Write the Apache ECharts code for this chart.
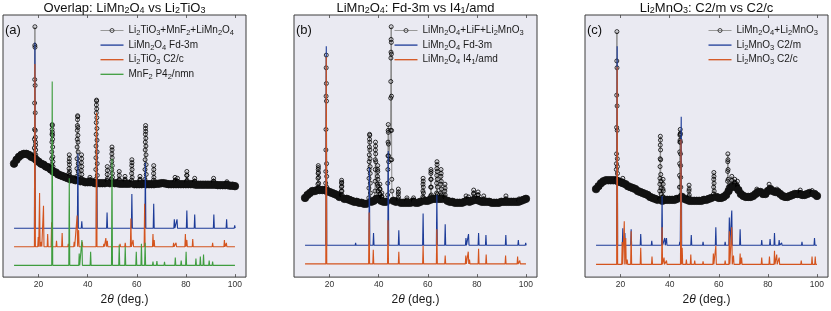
<!DOCTYPE html>
<html><head><meta charset="utf-8">
<script src="https://cdn.jsdelivr.net/npm/echarts@6/dist/echarts.min.js"></script>
<style>html,body{margin:0;padding:0;background:#fff}#c{width:831px;height:311px}</style>
</head><body><div id="c"></div>
<script>
// ---------------- DATA (intensity in arbitrary units, 2θ in degrees) ----------------
const bgStart = 10; // measured background sampled every 1° from 10° to 100°
const tickVals = [20, 40, 60, 80, 100];

// Panel (a) measured pattern
const expBaseA = [116,120,123,125,126,126,125,123,122,120,
  118,116,115,113,112,110,108,107,105,104,
  103,102,101,100,100,99,99,98,98,97,
  97,97,97,96,96,96,96,96,96,96,
  95.5,96,96,95.5,95.5,95.5,95.5,95.5,95,95,
  95,95,95,95.5,95,95,95,95,95.5,95.5,
  96,96,95.5,95,95,95,95,95,95,95,
  95,95,95,95,94.5,94.5,94.5,94.5,94.5,94.5,
  94.5,94.5,94.5,94,94,94,94,94,93.5,93.5,93];
const expPeaksA = [
  [18.5,[126,132,141,151,178,202,237,256,235,196,168,150,143,138,135,130,125]],
  [25.55,[115,121,128,138,146,151,156,155,148,145,141,133,123,118,113]],
  [32.5,[106,111,118,125,121,115,108,104]],
  [35.9,[103,111,121,133,141,150,155,161,165,164,153,145,138,128,116,108,102]],
  [37.5,[101,109,117,125,121,113,105]],
  [40.9,[100,102,99]],
  [43.6,[100,110,122,134,146,158,168,176,181,180,172,163,152,140,128,116,104]],
  [48.0,[99,105,113,109,101]],
  [49.9,[100,110,118,126,133,130,122,114,106,102]],
  [52.85,[100,108,104,99]],
  [55.2,[99,103,100]],
  [58.0,[99,106,114,120,117,110,102]],
  [61.3,[99,103,100]],
  [63.6,[100,110,120,130,138,146,152,155,149,142,134,125,115,105]],
  [66.9,[99,106,114,110,102]],
  [75.6,[98,102,99]],
  [76.6,[98,101,98]],
  [80.4,[98,104,108,104,99]],
  [83.6,[98,101,98]],
  [91.3,[98,101,98]],
  [96.7,[96,97.5,96]]
];
// Panel (a) reference patterns: offset and [2θ, peak top]
const refA1Base = 50;
const refA1Peaks = [[18.5,240],[30.4,52],[36.0,126],[37.6,57],[43.7,145],[47.9,66],[58.0,85],[63.5,117],[66.9,75],[75.3,59],[76.4,59],[80.4,68],[83.6,64],[91.4,64],[96.6,59],[99.9,53]];
const refA2Base = 31;
const refA2Peaks = [[18.5,218],[19.85,41],[20.4,86],[21.1,36],[22.0,73],[23.7,44],[25.3,56],[27.3,37],[29.6,45],[32.1,34],[34.5,36],[35.7,63],[36.3,48],[37.8,36],[40.2,33],[41.6,33],[43.6,168],[45.4,33],[46.6,34],[47.4,40],[48.0,37],[51.1,33],[53.2,34],[55.3,35],[57.6,60],[58.5,38],[63.2,75],[66.6,44],[67.1,38],[75.0,35],[76.0,35],[79.8,44],[80.4,38],[82.8,39],[90.9,35],[95.7,38],[96.5,35]];
const refA3Base = 12;
const refA3Peaks = [[25.55,200],[32.5,101],[36.55,24],[37.65,38],[41.2,26],[49.9,121],[52.85,33],[55.3,31],[59.8,26],[61.9,34],[63.4,35],[66.6,16],[68.2,16.5],[71.3,15.7],[75.7,20],[78.1,17],[80.1,26],[84.1,19],[85.9,21],[87.2,23],[89.5,17],[90.9,16],[94.4,14],[96.0,14]];

// Panel (b) measured pattern
const expBaseB = [81,84,86,88,88,89,89,89,89,88,
  87,86,85,84,82,81,80,80,79,78,
  77,77,76,76,75,75,76,77,78,80,
  80,78,77,77,78,79,78,77,76,76,
  76,76,76,76,77,76,76,77,78,78,
  78,79,80,80,80,80,80,79,78,77,
  77,76,76,76,76,77,78,77,78,79,
  79,78,77,77,77,77,76,76,76,76,
  77,77,77,77,77,77,77,77,78,79,80];
const expPeaksB = [
  [15.4,[90,95,101,106,110,114,112,107,102,96,92]],
  [18.65,[96,108,130,151,185,214,227,198,180,116,103,92]],
  [24.9,[84,88,92,96,99,97,93,88,84]],
  [36.3,[81,91,101,110,118,125,133,141,146,145,138,130,121,113,106,96,86]],
  [38.7,[88,98,110,120,130,138,134,126,118]],
  [39.6,[95,103,110,114,108,100,93,88]],
  [40.5,[85,90,95,90,85]],
  [41.3,[82,86,82]],
  [43.9,[84,96,110,124,138,150,156,148,136,124,118]],
  [45.1,[120,150,183,200,224,230,243,256,240,228,185,150,120,100,88]],
  [48.0,[80,85,90,87,82]],
  [51.5,[78,81,79]],
  [54.2,[78,81,79]],
  [58.1,[82,88,95,101,98,92,86,81]],
  [61.3,[83,92,100,106,110,108,100,92,84]],
  [63.75,[86,96,104,111,118,115,108,100,92,85]],
  [65.4,[86,95,103,110,106,98,90,84]],
  [67.0,[82,88,95,91,84]],
  [75.6,[79,83,80]],
  [76.6,[79,82,79]],
  [78.7,[80,85,89,86,81]],
  [80.5,[80,84,87,84,80]],
  [82.8,[79,83,80]],
  [91.85,[79,83,80]],
  [97.2,[78,80,78]]
];
const refB1Base = 32.5;
const refB1Peaks = [[18.65,236],[30.6,35],[36.2,112],[37.9,45],[43.9,129],[48.2,48],[58.1,65],[63.7,84],[67.1,54],[75.55,40],[76.6,44],[80.7,45],[83.7,43],[91.8,43],[96.9,38],[99.9,35]];
const refB2Base = 13.5;
const refB2Peaks = [[18.65,225],[36.1,66],[37.8,28],[43.8,58],[48.2,26],[58.1,32],[63.7,49],[67.1,22],[75.5,22],[76.5,26],[77.0,18],[80.7,29],[83.8,23],[91.7,22],[96.6,21],[97.5,17]];

// Panel (c) measured pattern
const expBaseC = [90,93,96,98,99,99,99,99,99,98,
  97,96,95,93,92,91,90,88,87,86,
  85,84,82,81,80,79,78,78,79,79,
  79,79,79,80,82,82,80,79,78,78,
  78,78,78,78,79,79,80,81,82,82,
  81,81,82,84,88,92,93,92,89,85,
  83,82,82,82,83,85,87,87,85,85,
  88,90,88,87,87,85,83,82,82,83,
  84,85,85,85,84,84,85,86,86,85,83];
const expPeaksC = [
  [18.5,[100,110,116,126,153,186,221,251,214,175,150,121,113,106,100]],
  [20.9,[97,101,98]],
  [36.2,[80,88,95,101,113,121,135,144,140,130,120,105,98,91,85,80]],
  [37.3,[82,90,100,95,88,82]],
  [44.3,[82,92,104,116,128,138,145,140,146,151,147,138,126,114,102,92,84]],
  [47.9,[82,88,94,90,84]],
  [58.0,[85,92,100,107,103,96,88]],
  [63.7,[88,98,108,118,126,120,110,100,92]],
  [65.3,[95,103,99]],
  [66.5,[96,100,97]],
  [67.6,[94,98,92]],
  [75.5,[87,90,87]],
  [80.5,[90,95,91]],
  [83.7,[88,90,87]],
  [93.2,[86,89,86]],
  [98.0,[86,88.5,86]]
];
const refC1Base = 32.5;
const refC1Peaks = [[18.6,236],[20.9,50],[21.75,45],[24.3,49],[28.2,44],[32.7,37],[36.9,83],[38.0,40],[38.7,40],[44.1,36],[44.7,164],[48.8,43],[53.6,36],[58.8,51],[62.6,36],[64.3,61],[65.3,68],[68.7,49],[77.5,38],[80.9,39],[82.7,45],[84.6,38],[85.6,35],[93.9,36],[99.0,40]];
const refC2Base = 13;
const refC2Peaks = [[18.6,215],[20.65,36],[21.5,57],[22.1,40],[22.7,18],[24.3,47],[28.2,30],[32.8,21],[36.9,51],[37.7,20],[38.7,17],[44.6,141],[45.1,30],[46.8,18],[48.6,23],[50.2,17],[53.6,16],[57.8,24],[58.8,32],[62.6,17],[64.3,47],[65.3,51],[66.0,22],[68.7,24],[69.3,20],[77.5,20],[80.65,21],[82.7,27],[83.6,23],[84.6,20],[93.6,17],[98.0,21],[99.3,21]];

// Labels
const titles = [
  'Overlap: LiMn{s|2}O{s|4} vs Li{s|2}TiO{s|3}',
  'LiMn{s|2}O{s|4}: Fd-3m vs I4{s|1}/amd',
  'Li{s|2}MnO{s|3}: C2/m vs C2/c'
];
const panelTags = ['(a)', '(b)', '(c)'];
const legendLabels = {
  expA: 'Li{s|2}TiO{s|3}+MnF{s|2}+LiMn{s|2}O{s|4}',
  refA1: 'LiMn{s|2}O{s|4} Fd-3m',
  refA2: 'Li{s|2}TiO{s|3} C2/c',
  refA3: 'MnF{s|2} P4{s|2}/nmn',
  expB: 'LiMn{s|2}O{s|4}+LiF+Li{s|2}MnO{s|3}',
  refB1: 'LiMn{s|2}O{s|4} Fd-3m',
  refB2: 'LiMn{s|2}O{s|4} I4{s|1}/amd',
  expC: 'LiMn{s|2}O{s|4}+Li{s|2}MnO{s|3}',
  refC1: 'Li{s|2}MnO{s|3} C2/m',
  refC2: 'Li{s|2}MnO{s|3} C2/c'
};

// ---------------- BUILD ----------------
const FONT = '"Liberation Sans", Arial, Helvetica, sans-serif';
const BLUE = '#1c3b98', RED = '#d4541e', GREEN = '#3f9d3f', GRAYLINE = '#8a8a8a';
const seriesColor = { refA1: BLUE, refA2: RED, refA3: GREEN, refB1: BLUE, refB2: RED, refC1: BLUE, refC2: RED };
const STEP = 0.04; // measurement step inside peaks (deg)

function buildExp(base, peaks) {
  const pk = [];
  const spans = [];
  peaks.forEach(([x0, vals]) => {
    const im = vals.indexOf(Math.max(...vals));
    const xs = vals.map((v, i) => x0 + (i - im) * STEP);
    spans.push([xs[0], xs[xs.length - 1]]);
    vals.forEach((v, i) => pk.push({ value: [xs[i], v] }));
  });
  const bg = [];
  base.forEach((v, i) => {
    const x = bgStart + i;
    if (spans.some(s => x >= s[0] - 0.01 && x <= s[1] + 0.01)) return;
    bg.push({ value: [x, v], symbol: 'circle', symbolSize: 7.5, itemStyle: { color: '#111', borderColor: '#111' } });
  });
  return bg.concat(pk).sort((a, b) => a.value[0] - b.value[0]);
}
function buildRef(base, peaks) {
  const pts = [[10, base]];
  peaks.slice().sort((a, b) => a[0] - b[0]).forEach(([x, t]) => {
    pts.push([x - 0.2, base], [x, t], [x + 0.2, base]);
  });
  pts.push([100, base]);
  return pts;
}

const gridLefts = [3, 294, 585];
const grids = gridLefts.map(l => ({
  left: l, top: 15, width: 243, height: 268, show: true,
  backgroundColor: '#eaeaf2', borderColor: '#3c3c3c', borderWidth: 1
}));
const xAxes = [], yAxes = [];
gridLefts.forEach((l, i) => {
  xAxes.push({
    gridIndex: i, type: 'value', min: 5.5, max: 104.5, position: 'bottom',
    axisLine: { show: false }, splitLine: { show: false },
    axisTick: { show: true, inside: true, length: 3, lineStyle: { color: '#444', width: 0.8 }, customValues: tickVals },
    axisLabel: { show: true, margin: 3, fontSize: 8.5, color: '#333', fontFamily: FONT, customValues: tickVals },
    name: '2{i|θ} (deg.)', nameLocation: 'middle', nameGap: 12,
    nameTextStyle: { fontSize: 12, color: '#1a1a1a', fontFamily: FONT,
      rich: { i: { fontSize: 12, fontStyle: 'italic', fontFamily: FONT, color: '#1a1a1a' } } }
  });
  xAxes.push({
    gridIndex: i, type: 'value', min: 5.5, max: 104.5, position: 'top',
    axisLine: { show: false }, splitLine: { show: false },
    axisTick: { show: true, inside: true, length: 3, lineStyle: { color: '#444', width: 0.8 }, customValues: tickVals },
    axisLabel: { show: false }
  });
  yAxes.push({ gridIndex: i, type: 'value', min: 0, max: 268, show: false });
});

function expSeries(name, gi, base, peaks) {
  return {
    name, type: 'line', xAxisIndex: gi * 2, yAxisIndex: gi,
    data: buildExp(base, peaks), symbol: 'circle', symbolSize: 4,
    itemStyle: { color: 'rgba(0,0,0,0)', borderColor: '#000', borderWidth: 0.8 },
    lineStyle: { color: GRAYLINE, width: 1 }, silent: true, animation: false, z: 2
  };
}
function refSeries(name, gi, base, peaks) {
  const color = seriesColor[name];
  return {
    name, type: 'line', xAxisIndex: gi * 2, yAxisIndex: gi,
    data: buildRef(base, peaks), symbol: 'none', itemStyle: { color },
    lineStyle: { color, width: 1.1 }, silent: true, animation: false, z: 3
  };
}
const series = [
  expSeries('expA', 0, expBaseA, expPeaksA),
  refSeries('refA1', 0, refA1Base, refA1Peaks),
  refSeries('refA2', 0, refA2Base, refA2Peaks),
  refSeries('refA3', 0, refA3Base, refA3Peaks),
  expSeries('expB', 1, expBaseB, expPeaksB),
  refSeries('refB1', 1, refB1Base, refB1Peaks),
  refSeries('refB2', 1, refB2Base, refB2Peaks),
  expSeries('expC', 2, expBaseC, expPeaksC),
  refSeries('refC1', 2, refC1Base, refC1Peaks),
  refSeries('refC2', 2, refC2Base, refC2Peaks)
];

const LINE_ICON = 'path://M0,0H23V1.3H0Z';
function mkLegend(left, names) {
  return {
    left, top: 19, orient: 'vertical', itemWidth: 23, itemHeight: 5, itemGap: 1.6,
    selectedMode: false, animation: false,
    data: names.map((n, k) => k === 0
      ? { name: n, itemStyle: { color: 'rgba(0,0,0,0)', borderColor: '#222', borderWidth: 0.8 },
          lineStyle: { color: '#999', width: 1 } }
      : { name: n, icon: LINE_ICON, itemStyle: { color: seriesColor[n], borderWidth: 0 } }),
    formatter: n => legendLabels[n],
    textStyle: { fontSize: 10, color: '#1a1a1a', fontFamily: FONT, lineHeight: 12,
      rich: { s: { fontSize: 7.5, fontFamily: FONT, color: '#1a1a1a', lineHeight: 8, padding: [5, 0, 0, 0] } } }
  };
}
const legends = [
  mkLegend(95, ['expA', 'refA1', 'refA2', 'refA3']),
  mkLegend(389, ['expB', 'refB1', 'refB2']),
  mkLegend(703, ['expC', 'refC1', 'refC2'])
];

const titleX = [124.5, 415.5, 706.5];
const graphics = [];
titles.forEach((t, i) => graphics.push({
  type: 'text', x: titleX[i], y: 8, silent: true,
  style: { text: t, fontSize: 13, fontFamily: FONT, fill: '#111', align: 'center', verticalAlign: 'middle',
    rich: { s: { fontSize: 9, fontFamily: FONT, fill: '#111', padding: [6, 0, 0, 0] } } }
}));
panelTags.forEach((t, i) => graphics.push({
  type: 'text', x: gridLefts[i] + 2, y: 30, silent: true, z: 10,
  style: { text: t, fontSize: 13, fontFamily: FONT, fill: '#111', align: 'left', verticalAlign: 'middle' }
}));

const chart = echarts.init(document.getElementById('c'), null, { renderer: 'canvas' });
chart.setOption({
  animation: false,
  backgroundColor: '#ffffff',
  grid: grids, xAxis: xAxes, yAxis: yAxes,
  legend: legends, series, graphic: graphics
});
</script></body></html>
